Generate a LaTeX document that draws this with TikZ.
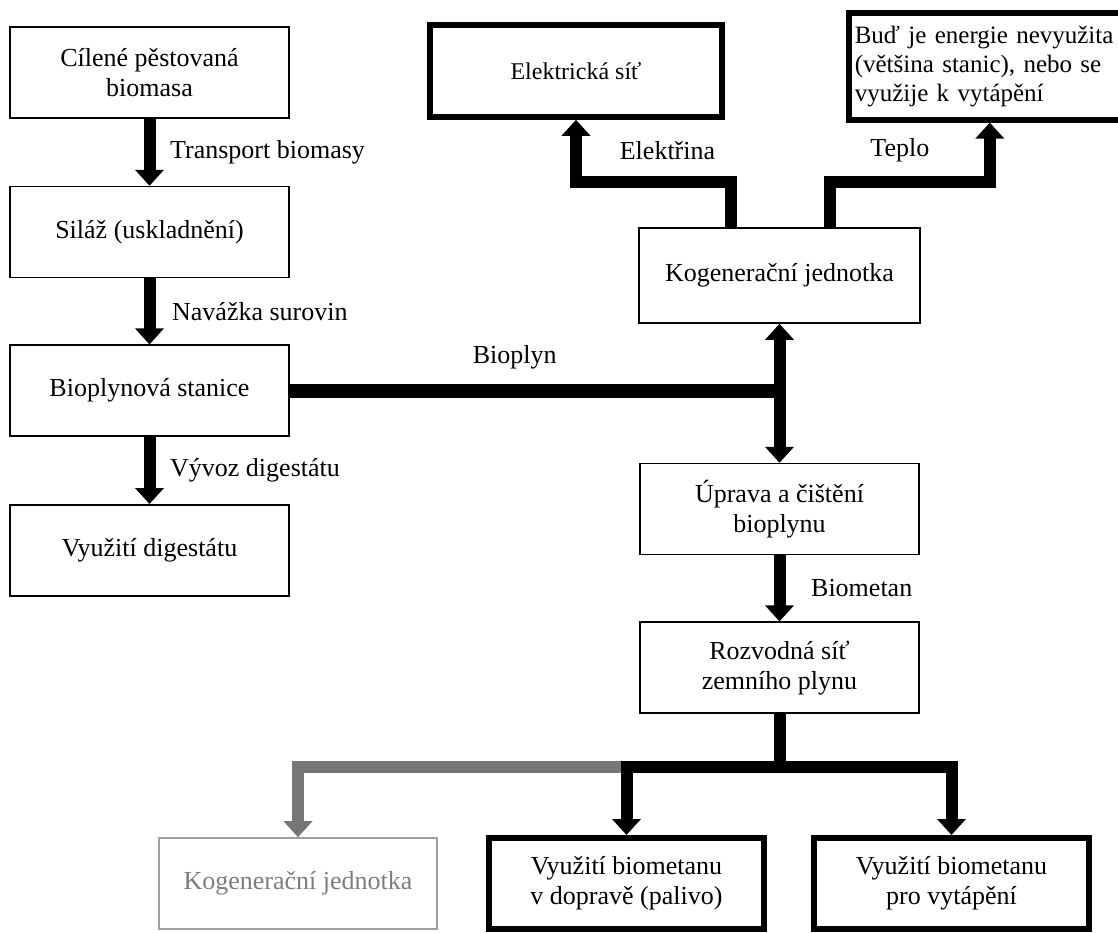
\documentclass[tikz,border=0pt]{standalone}
\usepackage{fontspec}
\setmainfont{Liberation Serif}
\usetikzlibrary{positioning, arrows.meta}
\definecolor{pipegray}{RGB}{118,118,118}
\definecolor{boxgray}{RGB}{160,160,160}
\definecolor{textgray}{RGB}{125,125,125}

\begin{document}
\begin{tikzpicture}[
		every node/.style={font=\fontsize{13}{15}\selectfont},
		Head/.tip={Triangle[length=8pt,width=14pt]},
		box/.style={draw, line width=0.8pt, minimum width=139.5pt, minimum height=45.5pt, align=center, inner sep=3pt},
		fatbox/.style={box, line width=2.8pt},
		greybox/.style={box, draw=boxgray, text=textgray},
		pipe/.style={line width=6pt},
		flow/.style={pipe, -Head},
		flowboth/.style={pipe, Head-Head}
	]
	\useasboundingbox (0,0) rectangle (559pt,-466pt);
	% left column
	\node[box] (crop) at (74.75pt,-36.25pt) {Cílené pěstovaná\\biomasa};
	\node[box,below=33.5pt of crop] (silage) {Siláž (uskladnění)};
	\node[box,below=33pt of silage] (plant) {Bioplynová stanice};
	\node[box,below=33.5pt of plant] (digest) {Využití digestátu};
	% right column
	\node[box,minimum width=140.5pt,minimum height=47.5pt] (chp) at (389.75pt,-137.75pt) {Kogenerační jednotka};
	\node[box,below=69.5pt of chp] (upgrade) {Úprava a čištění\\bioplynu};
	\node[box,below=33pt of upgrade] (grid) {Rozvodná síť\\zemního plynu};
	\node[fatbox,minimum width=146pt,minimum height=46pt,font=\fontsize{12}{14.5}\selectfont] (power) at (288pt,-35.5pt) {Elektrická síť};
	\node[fatbox,anchor=north west,align=left,text width=148pt,minimum height=53.5pt,font=\fontsize{12.5}{14.5}\selectfont] (heat) at (423pt,-5pt) {Buď je energie nevyužita\\(většina stanic), nebo se\\využije k vytápění};
	% bottom row
	\node[greybox,minimum width=139pt] (cogen) at (149pt,-441.75pt) {Kogenerační jednotka};
	\node[fatbox,line width=3pt,minimum width=137.5pt] (transport) at (313.25pt,-441.75pt) {Využití biometanu\\v dopravě (palivo)};
	\node[fatbox,line width=3pt,minimum width=137.5pt,right=22pt of transport] (heating) {Využití biometanu\\pro vytápění};
	\coordinate (split) at ([yshift=-26.5pt]grid.south);

	\draw[flow] (crop) -- node[right=4pt]{Transport biomasy} (silage);
	\draw[flow] (silage) -- node[right=5pt]{Navážka surovin} (plant);
	\draw[flow] (plant) -- node[right=4pt]{Vývoz digestátu} (digest);
	\draw[pipe,line width=7pt] (plant.east) -- node[above=4pt,xshift=-10pt]{Bioplyn} (plant.east -| chp.south);
	\draw[flowboth] (chp) -- (upgrade);
	\draw[flow] (upgrade) -- node[right=9.5pt]{Biometan} (grid);
	\draw[flow] ([xshift=-24.25pt]chp.north) -- ++(0,22.5pt) -| node[pos=0.25,above=5pt,xshift=7pt]{Elektřina} (power.south);
	\draw[flow] ([xshift=25.25pt]chp.north) -- ++(0,22.5pt) -| node[pos=0.25,above=4pt,xshift=-5pt]{Teplo} ([xshift=-6.5pt]heat.south);
	\draw[flow,draw=pipegray] (split -| transport.north) -| (cogen.north);
	\draw[pipe] (grid) -- (split);
	\draw[flow] (split) -| (transport);
	\draw[flow] (split) -| (heating);
\end{tikzpicture}
\end{document}
